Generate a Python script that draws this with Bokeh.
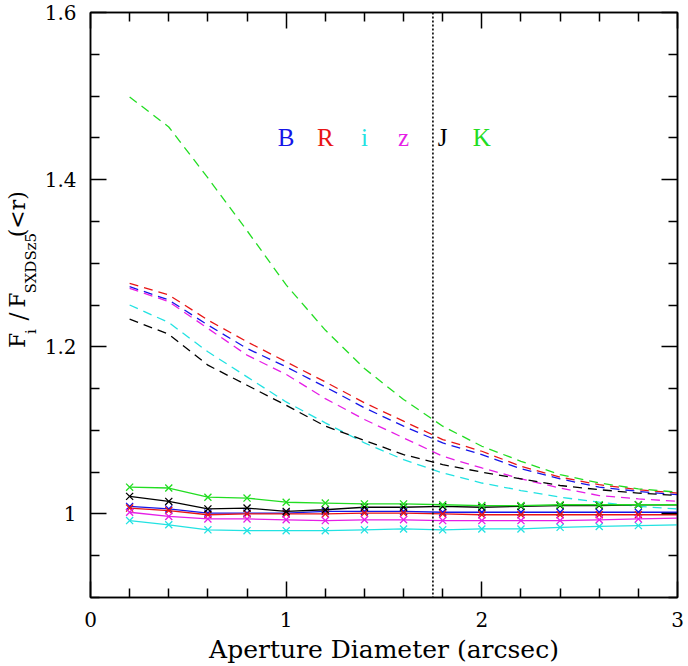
import math
from bokeh.plotting import figure
from bokeh.layouts import row
from bokeh.models import ColumnDataSource, FixedTicker, LinearAxis, Span, NumeralTickFormatter, Range1d
from bokeh.core.properties import value
from bokeh.embed import file_html
from bokeh.resources import INLINE

# aperture diameters (arcsec)
aperture = [0.2, 0.4, 0.6, 0.8, 1.0, 1.2, 1.4, 1.6, 1.8, 2.0, 2.2, 2.4, 2.6, 2.8, 3.0]

bands = ["B", "R", "i", "z", "J", "K"]
band_colors = ["#1515e8", "#e81515", "#22e2e2", "#e61ee6", "#000000", "#22dd22"]

# flux ratio curves before matching (dashed)
raw_B = [1.272, 1.256, 1.226, 1.198, 1.176, 1.152, 1.127, 1.105, 1.085, 1.071, 1.054, 1.042, 1.032, 1.027, 1.023]
raw_R = [1.276, 1.262, 1.232, 1.206, 1.182, 1.158, 1.133, 1.111, 1.089, 1.075, 1.057, 1.044, 1.035, 1.029, 1.025]
raw_i = [1.250, 1.229, 1.194, 1.164, 1.134, 1.109, 1.085, 1.065, 1.049, 1.037, 1.028, 1.020, 1.014, 1.009, 1.006]
raw_z = [1.270, 1.254, 1.222, 1.190, 1.167, 1.138, 1.113, 1.091, 1.069, 1.055, 1.042, 1.031, 1.022, 1.018, 1.015]
raw_J = [1.233, 1.215, 1.178, 1.154, 1.130, 1.105, 1.088, 1.071, 1.059, 1.050, 1.042, 1.034, 1.029, 1.025, 1.022]
raw_K = [1.499, 1.463, 1.402, 1.339, 1.274, 1.220, 1.174, 1.137, 1.105, 1.081, 1.063, 1.047, 1.037, 1.030, 1.026]

# flux ratio curves after matching (solid, with markers)
match_B = [1.009, 1.006, 1.001, 1.001, 1.001, 1.003, 1.003, 1.003, 1.002, 1.002, 1.002, 1.002, 1.002, 1.002, 1.002]
match_R = [1.007, 1.004, 0.999, 1.000, 1.000, 1.000, 1.001, 1.001, 1.000, 0.999, 0.999, 0.999, 0.999, 0.999, 0.999]
match_i = [0.992, 0.987, 0.981, 0.980, 0.980, 0.980, 0.981, 0.982, 0.981, 0.982, 0.982, 0.984, 0.985, 0.986, 0.987]
match_z = [1.002, 0.997, 0.994, 0.994, 0.993, 0.992, 0.993, 0.993, 0.992, 0.992, 0.992, 0.992, 0.993, 0.994, 0.995]
match_J = [1.021, 1.015, 1.006, 1.007, 1.003, 1.005, 1.008, 1.008, 1.009, 1.008, 1.009, 1.010, 1.010, 1.011, 1.011]
match_K = [1.032, 1.031, 1.020, 1.019, 1.014, 1.013, 1.012, 1.012, 1.011, 1.010, 1.010, 1.011, 1.011, 1.011, 1.011]

raw_curves = [raw_B, raw_R, raw_i, raw_z, raw_J, raw_K]
match_curves = [match_B, match_R, match_i, match_z, match_J, match_K]

psf_fwhm = 1.75

x_major = [0, 1, 2, 3]
x_minor = [0.2, 0.4, 0.6, 0.8, 1.2, 1.4, 1.6, 1.8, 2.2, 2.4, 2.6, 2.8]
y_major = [1.0, 1.2, 1.4, 1.6]
y_minor = [0.9, 0.95, 1.05, 1.1, 1.15, 1.25, 1.3, 1.35, 1.45, 1.5, 1.55]

SERIF = "DejaVu Serif"
LABEL_W = 40
H = 666

p = figure(width=688 - LABEL_W, height=H, x_range=(0, 3), y_range=(0.9, 1.6),
           output_backend="svg", toolbar_location=None,
           min_border_left=90 - LABEL_W, min_border_right=11, min_border_top=12, min_border_bottom=68)
p.xgrid.grid_line_color = None
p.ygrid.grid_line_color = None
p.outline_line_color = "black"
p.outline_line_width = 1.5


def style_axis(ax):
    ax.axis_line_color = "black"
    ax.axis_line_width = 1.5
    ax.major_tick_line_width = 1.5
    ax.minor_tick_line_width = 1.5
    ax.major_tick_in = 16
    ax.major_tick_out = 0
    ax.minor_tick_in = 9
    ax.minor_tick_out = 0
    ax.major_label_text_font = SERIF
    ax.major_label_text_font_size = "20px"
    ax.major_label_text_color = "black"


p.xaxis.ticker = FixedTicker(ticks=x_major, minor_ticks=x_minor)
p.yaxis.ticker = FixedTicker(ticks=y_major, minor_ticks=y_minor)
p.yaxis.formatter = NumeralTickFormatter(format="0.[0]")
style_axis(p.xaxis[0])
style_axis(p.yaxis[0])
p.xaxis.major_label_standoff = 14
p.yaxis.major_label_standoff = 14
p.xaxis.axis_label = "Aperture Diameter (arcsec)"
p.xaxis.axis_label_text_font = SERIF
p.xaxis.axis_label_text_font_size = "25px"
p.xaxis.axis_label_text_font_style = "normal"
p.xaxis.axis_label_text_color = "black"
p.xaxis.axis_label_standoff = 5


# unlabelled inward ticks on the top and right edges
def tick_only_axis(ticks, length, draw_line):
    ax = LinearAxis(ticker=FixedTicker(ticks=[], minor_ticks=ticks))
    ax.axis_line_color = "black" if draw_line else None
    ax.axis_line_width = 1.5
    ax.major_tick_in = 0
    ax.major_tick_out = 0
    ax.minor_tick_in = length
    ax.minor_tick_out = 0
    ax.minor_tick_line_width = 1.5
    ax.major_label_standoff = 0
    ax.axis_label_standoff = 0
    return ax


p.add_layout(tick_only_axis(x_major, 16, True), "above")
p.add_layout(tick_only_axis(x_minor, 9, False), "above")
p.add_layout(tick_only_axis(y_major, 16, True), "right")
p.add_layout(tick_only_axis(y_minor, 9, False), "right")

# curves
x_mark = aperture[:-1]
for raw, matched, col in zip(raw_curves, match_curves, band_colors):
    p.line(aperture, raw, line_color=col, line_width=1.3, line_dash="9 6")
    p.line(aperture, matched, line_color=col, line_width=1.3)
    p.scatter(x_mark, matched[:-1], marker="x", size=10, line_color=col, line_width=1.3)

p.add_layout(Span(location=psf_fwhm, dimension="height", line_color="black",
                  line_width=1.6, line_dash="2 2"))

# band key
key_src = ColumnDataSource(dict(x=[1.0, 1.2, 1.4, 1.6, 1.8, 2.0], y=[1.45] * 6,
                                t=bands, c=band_colors))
p.text(x="x", y="y", text="t", text_color="c", source=key_src,
       text_font=value("Liberation Serif"), text_font_size="25px",
       text_align="center", text_baseline="alphabetic")

# y-axis title in its own strip, laid out in pixel units so subscripts can be set
lab = figure(width=LABEL_W, height=H, x_range=Range1d(0, LABEL_W), y_range=Range1d(0, H),
             output_backend="svg", toolbar_location=None, x_axis_type=None, y_axis_type=None,
             min_border=0)
lab.outline_line_color = None
lab.xgrid.grid_line_color = None
lab.ygrid.grid_line_color = None

ylabel_text = ["F", "i", "/", "F", "SXDSz5", "(<r)"]
ylabel_start = [382, 366, 346, 336, 320, 256]
ylabel_base = [17, 30, 18, 17, 30, 17]
ylabel_size = ["22px", "15px", "24px", "22px", "15px", "22px"]
ylabel_align = ["left", "left", "center", "left", "left", "left"]
for txt, py, px, size, al in zip(ylabel_text, ylabel_start, ylabel_base, ylabel_size, ylabel_align):
    lab.text(x=[px], y=[H - py], text=[txt], angle=math.pi / 2,
             text_font=value(SERIF), text_font_size=size, text_color="black",
             text_align=al, text_baseline="alphabetic")

layout = row(lab, p, spacing=0)
open("out.html", "w").write(file_html(layout, INLINE))
